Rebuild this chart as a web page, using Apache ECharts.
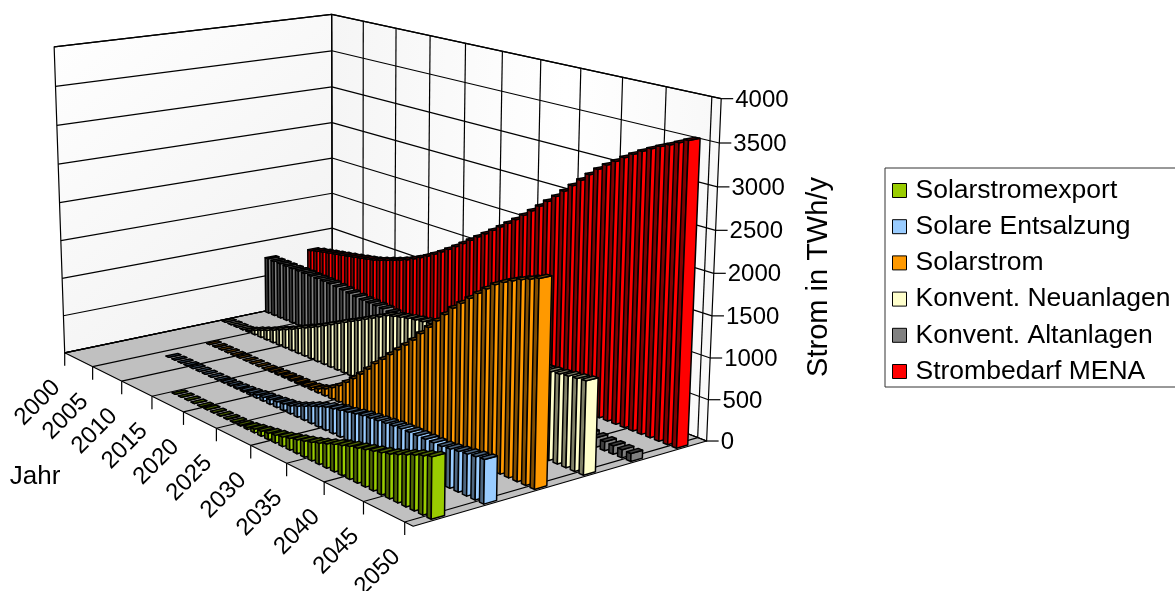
<!DOCTYPE html>
<html>
<head>
<meta charset="utf-8">
<title>Strom MENA</title>
<script src="https://cdn.jsdelivr.net/npm/echarts@6/dist/echarts.min.js"></script>
<style>
  html, body { margin: 0; padding: 0; background: #fff; }
  #chart { width: 1175px; height: 591px; }
</style>
</head>
<body>
<div id="chart"></div>
<script>
const yearLabels = [2000, 2005, 2010, 2015, 2020, 2025, 2030, 2035, 2040, 2045, 2050]
const valueLabels = [0, 500, 1000, 1500, 2000, 2500, 3000, 3500, 4000]
const firstYear = 2000

// one value per year, 2000 to 2050. null = no bar at all
const solarstromexport = [
  null, null, null, null, null, null, null, null, null, null,
  null, null, null, null, null, 0, 0, 0, 0, 0,
  3, 4, 5, 6, 8, 10, 25, 45, 60, 78,
  94, 115, 140, 165, 190, 218, 250, 285, 320, 350,
  382, 405, 430, 455, 480, 508, 545, 585, 625, 660, 692
]
const solareEntsalzung = [
  null, null, null, null, null, null, 0, 0, 0, 0,
  0, 0, 0, 0, 0, 5, 8, 12, 18, 28,
  40, 50, 60, 72, 85, 100, 135, 175, 215, 250,
  285, 305, 325, 345, 365, 384, 395, 405, 415, 425,
  433, 435, 436, 436, 437, 437, 450, 465, 478, 492, 504
]
const solarstrom = [
  null, null, null, null, null, 0, 0, 0, 0, 0,
  0, 0, 0, 0, 0, 10, 12, 14, 16, 18,
  20, 30, 50, 90, 145, 210, 290, 375, 470, 570,
  674, 765, 860, 955, 1050, 1146, 1260, 1370, 1480, 1590,
  1700, 1790, 1880, 1970, 2055, 2136, 2195, 2245, 2290, 2330, 2370
]
const neuanlagen = [
  0, 0, 0, 0, 20, 60, 95, 130, 170, 210,
  250, 290, 335, 380, 420, 465, 515, 565, 615, 665,
  711, 760, 810, 860, 910, 960, 985, 1010, 1030, 1048,
  1061, 1075, 1085, 1095, 1100, 1100, 1095, 1090, 1085, 1075,
  1070, 1065, 1060, 1050, 1040, 1035, 1045, 1055, 1070, 1080, 1092
]
const altanlagen = [
  770, 765, 765, 762, 760, 760, 758, 755, 752, 750,
  747, 738, 728, 718, 705, 693, 690, 685, 680, 665,
  650, 625, 600, 575, 550, 525, 500, 475, 450, 425,
  400, 375, 350, 325, 300, 280, 260, 240, 220, 200,
  185, 170, 155, 145, 135, 125, 115, 108, 102, 98, 95
]
const strombedarf = [
  767, 790, 808, 825, 842, 858, 875, 893, 912, 930,
  950, 978, 1008, 1040, 1075, 1113, 1158, 1205, 1258, 1315,
  1375, 1440, 1508, 1578, 1650, 1724, 1795, 1868, 1942, 2018,
  2094, 2178, 2262, 2348, 2436, 2525, 2618, 2712, 2805, 2898,
  2989, 3065, 3135, 3205, 3270, 3330, 3385, 3435, 3480, 3530, 3581
]

// front row first, same order as the legend
const rowNames = ['Solarstromexport', 'Solare Entsalzung', 'Solarstrom', 'Konvent. Neuanlagen', 'Konvent. Altanlagen', 'Strombedarf MENA']
const rowValues = [solarstromexport, solareEntsalzung, solarstrom, neuanlagen, altanlagen, strombedarf]
const rowColors = ['#99cc00', '#99ccff', '#ff9900', '#ffffcc', '#808080', '#ff0000']

const font = 'Liberation Sans, Arial, sans-serif'
const barYearFrom = 0.25
const barYearTo = 0.75
const barRowFrom = 0.375
const barRowTo = 0.625

// where the corners of the box land on the page: [u, v, w, px, py]
// u = along the years, v = front to back row, w = height
const boxCorners = [
  [0, 0, 0, 65, 352],
  [1, 0, 0, 413, 527],
  [1, 1, 0, 707, 440],
  [0, 1, 0, 332, 298],
  [0, 0, 1, 54, 47],
  [0, 1, 1, 332, 14],
  [1, 1, 1, 721, 99]
]

// least squares fit of the perspective camera from the corners above
function fitCamera (corners) {
  const n = 11
  const m = []
  for (let i = 0; i < n; i++) m.push(new Array(n + 1).fill(0))
  const addRow = (a, b) => {
    for (let i = 0; i < n; i++) {
      for (let j = 0; j < n; j++) m[i][j] += a[i] * a[j]
      m[i][n] += a[i] * b
    }
  }
  corners.forEach(([u, v, w, px, py]) => {
    const x = px / 1000
    const y = py / 1000
    addRow([u, v, w, 1, 0, 0, 0, 0, -x * u, -x * v, -x * w], x)
    addRow([0, 0, 0, 0, u, v, w, 1, -y * u, -y * v, -y * w], y)
  })
  for (let c = 0; c < n; c++) {
    let best = c
    for (let r = c + 1; r < n; r++) if (Math.abs(m[r][c]) > Math.abs(m[best][c])) best = r
    const tmp = m[c]; m[c] = m[best]; m[best] = tmp
    for (let r = 0; r < n; r++) {
      if (r === c) continue
      const f = m[r][c] / m[c][c]
      for (let k = c; k <= n; k++) m[r][k] -= f * m[c][k]
    }
  }
  return m.map((row, i) => row[n] / row[i])
}
const cam = fitCamera(boxCorners)

function project (u, v, w) {
  const d = cam[8] * u + cam[9] * v + cam[10] * w + 1
  return [
    1000 * (cam[0] * u + cam[1] * v + cam[2] * w + cam[3]) / d,
    1000 * (cam[4] * u + cam[5] * v + cam[6] * w + cam[7]) / d
  ]
}

// the hidden axes do the scaling, the camera only bends the result
function toBox (params, api, year, value) {
  const rect = params.coordSys
  const p = api.coord([year, value])
  return [(p[0] - rect.x) / rect.width, 1 - (p[1] - rect.y) / rect.height]
}

function shade (color, f) {
  const c = echarts.color.parse(color)
  return 'rgb(' + Math.round(c[0] * f) + ',' + Math.round(c[1] * f) + ',' + Math.round(c[2] * f) + ')'
}

function poly (points, fill, stroke, width) {
  return {
    type: 'polygon',
    shape: { points: points },
    style: { fill: fill, stroke: stroke, lineWidth: width, lineJoin: 'round' }
  }
}

function line (a, b, color, width) {
  return {
    type: 'line',
    shape: { x1: a[0], y1: a[1], x2: b[0], y2: b[1] },
    style: { stroke: color, lineWidth: width }
  }
}

function renderBar (rowIndex) {
  return (params, api) => {
    const year = api.value(0)
    const [u0, w] = toBox(params, api, year + barYearFrom, api.value(1))
    const [u1] = toBox(params, api, year + barYearTo, 0)
    const v0 = (rowIndex + barRowFrom) / rowNames.length
    const v1 = (rowIndex + barRowTo) / rowNames.length
    const color = rowColors[rowIndex]
    return {
      type: 'group',
      children: [
        poly([project(u0, v0, 0), project(u1, v0, 0), project(u1, v0, w), project(u0, v0, w)], shade(color, 0.5), '#000', 1.5),
        poly([project(u1, v0, 0), project(u1, v1, 0), project(u1, v1, w), project(u1, v0, w)], color, '#000', 1.5),
        poly([project(u0, v0, w), project(u1, v0, w), project(u1, v1, w), project(u0, v1, w)], shade(color, 0.5), '#000', 1.5)
      ]
    }
  }
}

function renderBox (params, api) {
  const wallLeft = new echarts.graphic.LinearGradient(0, 0, 1, 1, [
    { offset: 0, color: '#ffffff' },
    { offset: 1, color: '#f0f0f0' }
  ])
  const wallRight = new echarts.graphic.LinearGradient(0, 0, 1, 0, [
    { offset: 0, color: '#f5f5f5' },
    { offset: 0.6, color: '#ffffff' },
    { offset: 1, color: '#f8f8f8' }
  ])
  const children = [
    poly([project(0, 0, 0), project(0, 1, 0), project(0, 1, 1), project(0, 0, 1)], wallLeft, '#000', 1.2),
    poly([project(0, 1, 0), project(1, 1, 0), project(1, 1, 1), project(0, 1, 1)], wallRight, '#000', 1.2),
    poly([project(0, 0, 0), project(1, 0, 0), project(1, 1, 0), project(0, 1, 0)], '#c0c0c0', '#000', 1.2)
  ]
  valueLabels.forEach(value => {
    const w = toBox(params, api, firstYear, value)[1]
    const right = project(1, 1, w)
    children.push(line(project(0, 0, w), project(0, 1, w), '#000', 1.2))
    children.push(line(project(0, 1, w), right, '#000', 1.2))
    children.push(line(right, [right[0] + 12, right[1]], '#000', 1.2))
    children.push({
      type: 'text',
      x: right[0] + 14,
      y: right[1] + 1.5,
      style: { text: String(value), fill: '#000', font: '24px ' + font, align: 'left', verticalAlign: 'middle' }
    })
  })
  yearLabels.forEach(year => {
    const u = toBox(params, api, year, 0)[0]
    const front = project(u, 0, 0)
    children.push(line(project(u, 1, 1), project(u, 1, 0), '#000', 1.2))
    children.push(line(project(u, 1, 0), front, '#000', 1.2))
    children.push(line(front, [front[0], front[1] + 13], '#000', 1.2))
    children.push({
      type: 'text',
      x: front[0] - 27,
      y: front[1] + 50,
      rotation: Math.PI / 4,
      style: { text: String(year), fill: '#000', font: '24px ' + font, align: 'center', verticalAlign: 'middle' }
    })
  })
  return { type: 'group', children: children }
}

const chart = echarts.init(document.getElementById('chart'))

// later series paint on top, so the back row goes first
const barSeries = rowNames.map((name, rowIndex) => ({
  name: name,
  type: 'custom',
  coordinateSystem: 'cartesian2d',
  renderItem: renderBar(rowIndex),
  itemStyle: { color: rowColors[rowIndex] },
  silent: true,
  data: rowValues[rowIndex].map((value, i) => [firstYear + i, value]).filter(d => d[1] !== null)
})).reverse()

chart.setOption({
  animation: false,
  backgroundColor: '#fff',
  tooltip: { show: false },
  grid: { left: 0, right: 0, top: 0, bottom: 0 },
  xAxis: { type: 'value', min: firstYear, max: firstYear + strombedarf.length, show: false },
  yAxis: { type: 'value', min: 0, max: 4000, show: false },
  legend: {
    data: rowNames,
    orient: 'vertical',
    left: 885,
    top: 168,
    icon: 'rect',
    itemWidth: 14,
    itemHeight: 14,
    itemGap: 9.2,
    padding: [9, 9, 2, 7],
    borderColor: '#333',
    borderWidth: 1,
    selectedMode: false,
    itemStyle: { borderColor: '#000', borderWidth: 1 },
    textStyle: { color: '#000', fontFamily: font, fontSize: 26.5, lineHeight: 26, padding: [0, 0, 0, 4] }
  },
  graphic: [
    {
      type: 'text',
      x: 35,
      y: 477,
      style: { text: 'Jahr', fill: '#000', font: '26px ' + font, align: 'center', verticalAlign: 'middle' }
    },
    {
      type: 'text',
      x: 819,
      y: 277,
      rotation: Math.PI / 2,
      style: { text: 'Strom in TWh/y', fill: '#000', font: '29px ' + font, align: 'center', verticalAlign: 'middle' }
    }
  ],
  series: [{
    type: 'custom',
    coordinateSystem: 'cartesian2d',
    renderItem: renderBox,
    silent: true,
    data: [[firstYear, 0]]
  }].concat(barSeries)
})
</script>
</body>
</html>
